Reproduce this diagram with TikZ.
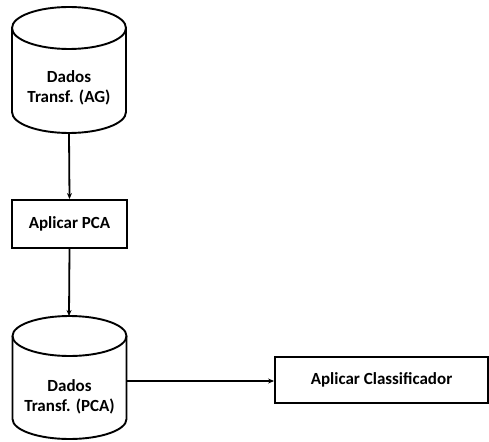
\documentclass[tikz,border=0pt]{standalone}
\usepackage{fontspec}
\setmainfont{Carlito}
\usetikzlibrary{arrows.meta}
\begin{document}
\begin{tikzpicture}[x=1pt,y=1pt,
  outline/.style={line width=1.9pt, line join=round},
  label/.style={font=\bfseries\fontsize{17}{20.5}\selectfont, align=center, inner sep=0pt},
  procbox/.style={draw, line width=1.9pt, rectangle, inner sep=0pt,
    font=\bfseries\fontsize{17}{20.5}\selectfont},
  flow/.style={line width=1.8pt, -{Stealth[length=6pt,width=5pt]}}]
\useasboundingbox (0,0) rectangle (489,-441);

% first data store: cylinder
\draw[outline] (69,-28) ellipse[x radius=57, y radius=21];
\draw[outline] (12,-28) -- (12,-112)
  arc[start angle=180, end angle=360, x radius=57, y radius=21] -- (126,-28);
\node[label] (dadosag) at (69,-88) {Dados\\Transf. (AG)};
\coordinate (agbottom) at (69,-133);

% PCA step
\node[procbox, minimum width=115pt, minimum height=48pt] (pca) at (69.5,-224) {Aplicar PCA};

% second data store: cylinder
\draw[outline] (69.5,-336) ellipse[x radius=57, y radius=20];
\draw[outline] (12.5,-336) -- (12.5,-419)
  arc[start angle=180, end angle=360, x radius=57, y radius=20] -- (126.5,-336);
\node[label] (dadospca) at (69.5,-397) {Dados\\Transf. (PCA)};
\coordinate (pcatop) at (69,-316);
\coordinate (pcaright) at (126.5,-381);

% classifier step
\node[procbox, minimum width=213pt, minimum height=46pt] (clf) at (381.5,-380) {Aplicar Classificador};

% connectors
\draw[flow] (agbottom) -- (pca.north);
\draw[flow] (pca.south) -- (pcatop);
\draw[flow] (pcaright) -- (clf.west |- pcaright);
\end{tikzpicture}
\end{document}
